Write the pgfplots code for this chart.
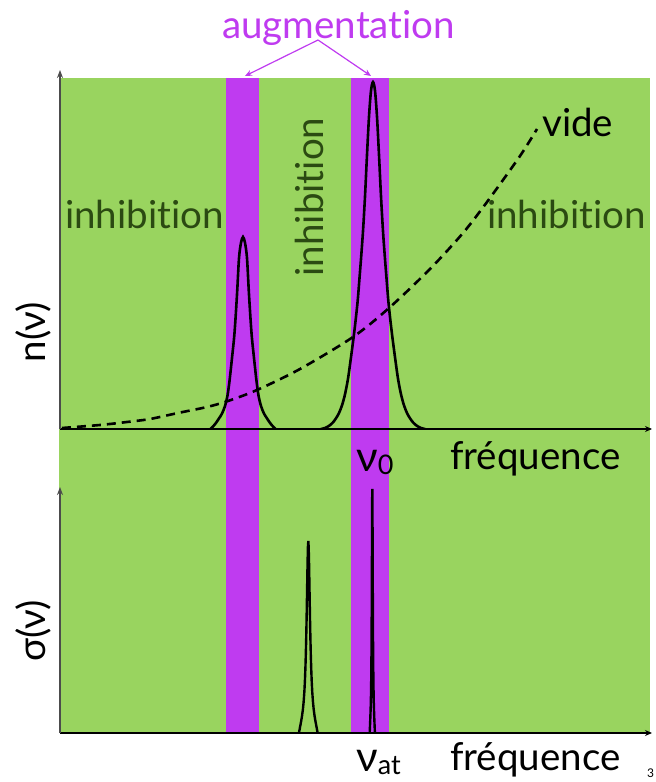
\documentclass[border=0pt]{standalone}
\usepackage{pgfplots}
\pgfplotsset{compat=1.18}
\usepackage{fontspec}
\setmainfont[Ligatures=NoCommon]{Lato}
\usetikzlibrary{arrows.meta}
\definecolor{bggreen}{RGB}{153,212,95}
\definecolor{band}{RGB}{191,59,240}
\definecolor{inhib}{RGB}{43,74,18}
\newcommand{\bigtxt}{\fontsize{38.5}{42}\selectfont}
\begin{document}
\begin{tikzpicture}[x=1pt,y=1pt]
\useasboundingbox (0,0) rectangle (656,782);
% background
\fill[bggreen] (59,50) rectangle (650,704);
\fill[band] (226,50) rectangle (259,704);
\fill[band] (351,50) rectangle (389,704);
\pgfplotsset{
  myaxis/.style={scale only axis, axis lines=left, xtick=\empty, ytick=\empty,
    xmin=60, xmax=652, ymin=0,
    x axis line style={line width=1.3pt, black, -{Stealth[length=7pt,width=6pt]}},
    y axis line style={line width=1.6pt, black!70, -{Stealth[length=8pt,width=6pt]}}},
}
% upper axis
\begin{axis}[myaxis, at={(60pt,353pt)}, anchor=south west, width=592pt, height=359pt, ymax=359]
\addplot[black, line width=2.6pt, smooth] coordinates {
(210.5,0)(213,2.5)(216,6.1)(219,10.6)(222,15.4)(225,23.0)(227.5,33.6)(229.5,48.0)(232,71.0)(234.5,96)(237,134.4)(239,170.9)(241,186.2)(243,192)
(245,186.2)(247,170.9)(249,134.4)(251.5,96)(254,71.0)(256.5,48.0)(258.5,33.6)(261,23.0)(264,15.4)(267,10.6)(270,6.1)(273,2.5)(275.5,0)};
\addplot[black, line width=2.6pt, smooth] coordinates {
(321,0)(325,1.0)(329,3.1)(333,6.6)(336.5,11.5)(339,16.0)(342,23.6)(345,34.7)(348,50.3)(351,71.8)(353.5,90.9)(355.5,107.6)(357.7,128.4)(359.5,150.9)(361,170.0)(363,197.8)(365,232.5)(367,274.1)(369,312.3)(371,338.3)(373,347)
(375,338.3)(377,312.3)(379,274.1)(381,232.5)(383,197.8)(385,170.0)(386.5,150.9)(388.3,128.4)(390.5,107.6)(392.5,90.9)(395,71.8)(398,50.3)(401,34.7)(404,23.6)(407,16.0)(409.5,11.5)(413,6.6)(417,3.1)(421,1.0)(425,0)};
\addplot[black, line width=2.6pt, smooth, dash pattern=on 9pt off 6pt] coordinates {
(62,1)(100,4)(127,7)(150,10)(178,16)(207,22)(228,28)(257,39)(300,60)(353,92)(389,121)(430,160)(463,196)(487,227)(520,273)(537,300)};
\end{axis}
% lower axis
\begin{axis}[myaxis, at={(60pt,49pt)}, anchor=south west, width=592pt, height=246pt, ymax=246]
\addplot[black, line width=2.4pt] coordinates {
(298.94,0)(300.02,5.8)(301.1,11.5)(302.0,16.9)(302.9,23.6)(303.62,30.9)(304.34,40.9)(304.88,51.3)(305.42,65.4)(305.78,77.4)(306.14,92.0)(306.5,109.2)(306.86,129.4)(307.22,150.9)(307.58,171.3)(307.94,186.4)(308.3,192)(308.66,186.4)(309.02,171.3)(309.38,150.9)(309.74,129.4)(310.1,109.2)(310.46,92.0)(310.82,77.4)(311.18,65.4)(311.72,51.3)(312.26,40.9)(312.98,30.9)(313.7,23.6)(314.6,16.9)(315.5,11.5)(316.58,5.8)(317.66,0)};
\addplot[black, line width=2.4pt] coordinates {
(369.7,0)(370.0,7.4)(370.3,14.6)(370.55,21.4)(370.8,30.0)(371.0,39.2)(371.2,52.0)(371.35,65.2)(371.5,83.1)(371.6,98.3)(371.7,116.9)(371.8,138.8)(371.9,164.5)(372.0,191.8)(372.1,217.6)(372.2,236.8)(372.3,244)(372.4,236.8)(372.5,217.6)(372.6,191.8)(372.7,164.5)(372.8,138.8)(372.9,116.9)(373.0,98.3)(373.1,83.1)(373.25,65.2)(373.4,52.0)(373.6,39.2)(373.8,30.0)(374.05,21.4)(374.3,14.6)(374.6,7.4)(374.9,0)};
\end{axis}
% texts
\node[anchor=base west, inner sep=0, text=band] at (222,743) {\bigtxt augmentation};
\draw[band, line width=1.2pt, -{Stealth[length=7pt,width=6pt]}] (318,742) -- (245,706);
\draw[band, line width=1.2pt, -{Stealth[length=7pt,width=6pt]}] (318,742) -- (371,706);
\node[anchor=base west, inner sep=0, text=inhib] at (65,553) {\bigtxt inhibition};
\node[anchor=base west, inner sep=0, text=inhib] at (487,553.7) {\bigtxt inhibition};
\node[anchor=base, rotate=90, inner sep=0, text=inhib] at (323,585) {\bigtxt inhibition};
\node[anchor=base west, inner sep=0] at (542,645.3) {\bigtxt vide};
\node[anchor=base, rotate=90, inner sep=0] at (45,450) {\bigtxt n(ν)};
\node[anchor=base, rotate=90, inner sep=0] at (45,151) {\bigtxt σ(ν)};
\node[anchor=base west, inner sep=0] at (356,310) {{\fontsize{42}{44}\selectfont ν}\raisebox{-3pt}{\fontsize{27}{30}\selectfont 0}};
\node[anchor=base west, inner sep=0] at (450,312) {\bigtxt fréquence};
\node[anchor=base west, inner sep=0] at (356,10) {{\fontsize{42}{44}\selectfont ν}\raisebox{-2pt}{\fontsize{27}{30}\selectfont at}};
\node[anchor=base west, inner sep=0] at (450,12) {\bigtxt fréquence};
\node[anchor=base west, inner sep=0] at (647,5) {\fontsize{12}{14}\selectfont 3};
\end{tikzpicture}
\end{document}
